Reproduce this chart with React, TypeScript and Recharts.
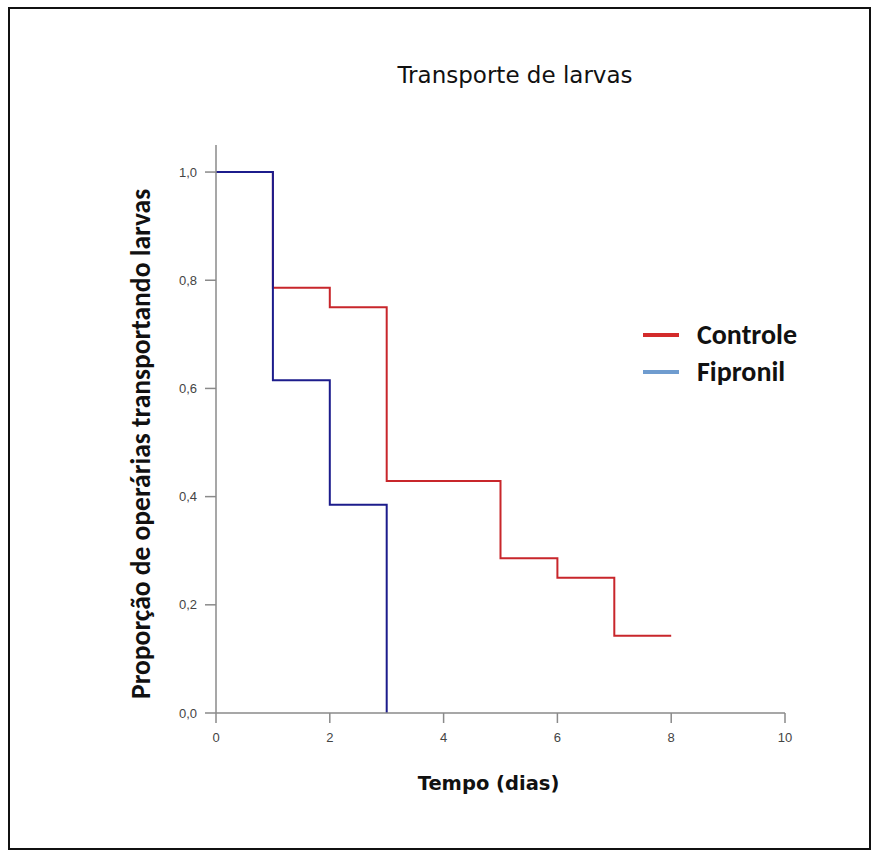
import React from 'react'
import { LineChart, Line, XAxis, YAxis } from 'recharts'

// Survival-style step data
const tempo = [0, 1, 2, 3, 4, 5, 6, 7, 8]
const controle = [1.0, 0.786, 0.75, 0.429, 0.429, 0.286, 0.25, 0.143, 0.143]
const fipronil = [1.0, 0.615, 0.385, 0.0]

const xTicks = [0, 2, 4, 6, 8, 10]
const yTicks = [0, 0.2, 0.4, 0.6, 0.8, 1.0]

const seriesNames = ['Controle', 'Fipronil']
const lineColors = ['#c8262b', '#1c1c8c']
const legendColors = ['#d32b2b', '#6f9ccf']

const controleData = controle.map((v, i) => ({ t: tempo[i], p: v }))
const fipronilData = fipronil.map((v, i) => ({ t: tempo[i], p: v }))

const fmt = (v: number) => v.toFixed(1).replace('.', ',')

const calibri = 'Calibri, Carlito, "Liberation Sans", Arial, sans-serif'
const tahoma = '"DejaVu Sans", Verdana, sans-serif'
const tickStyle = { fill: '#444', fontSize: 13, fontFamily: '"Liberation Sans", Arial, sans-serif' }

function LegendBox() {
  return (
    <div style={{ position: 'absolute', left: 643, top: 316, fontFamily: calibri }}>
      {seriesNames.map((name, i) => (
        <div key={name} style={{ display: 'flex', alignItems: 'center', height: 37 }}>
          <div style={{ width: 36, height: 4, background: legendColors[i], marginRight: 18 }} />
          <span style={{ fontWeight: 'bold', fontSize: 28, color: '#111' }}>{name}</span>
        </div>
      ))}
    </div>
  )
}

export default function App() {
  return (
    <div style={{ position: 'absolute', left: 0, top: 0, width: 877, height: 857, background: '#fff' }}>
      <div
        style={{
          position: 'absolute',
          left: 8,
          top: 7,
          width: 859,
          height: 839,
          border: '2px solid #111',
        }}
      />
      <div
        style={{
          position: 'absolute',
          left: 0,
          top: 62,
          width: 1030,
          textAlign: 'center',
          fontFamily: tahoma,
          fontSize: 23,
          color: '#111',
        }}
      >
        Transporte de larvas
      </div>
      <div style={{ position: 'absolute', left: 0, top: 0 }}>
        <LineChart
          width={877}
          height={857}
          margin={{ top: 145, right: 92, bottom: 104, left: 156 }}
        >
          <XAxis
            type="number"
            dataKey="t"
            domain={[0, 10]}
            ticks={xTicks}
            stroke="#8a8a8a"
            strokeWidth={1.5}
            tickSize={10}
            tickMargin={10}
            height={40}
            tick={tickStyle}
            label={{
              value: 'Tempo (dias)',
              position: 'insideBottom',
              offset: -37,
              dx: -12,
              style: { fontFamily: tahoma, fontWeight: 'bold', fontSize: 19.5, fill: '#111' },
            }}
            allowDuplicatedCategory={false}
          />
          <YAxis
            type="number"
            dataKey="p"
            domain={[0, 1.05]}
            ticks={yTicks}
            tickFormatter={fmt}
            stroke="#8a8a8a"
            strokeWidth={1.5}
            tickSize={11}
            tickMargin={8}
            width={60}
            tick={tickStyle}
            label={{
              value: 'Proporção de operárias transportando larvas',
              angle: -90,
              position: 'insideLeft',
              offset: -16,
              dy: 270,
              style: { fontFamily: calibri, fontWeight: 'bold', fontSize: 27.5, fill: '#111' },
            }}
          />
          <Line
            data={controleData}
            dataKey="p"
            name={seriesNames[0]}
            type="stepAfter"
            stroke={lineColors[0]}
            strokeWidth={2}
            dot={false}
            isAnimationActive={false}
          />
          <Line
            data={fipronilData}
            dataKey="p"
            name={seriesNames[1]}
            type="stepAfter"
            stroke={lineColors[1]}
            strokeWidth={2}
            dot={false}
            isAnimationActive={false}
          />
        </LineChart>
      </div>
      <LegendBox />
    </div>
  )
}
